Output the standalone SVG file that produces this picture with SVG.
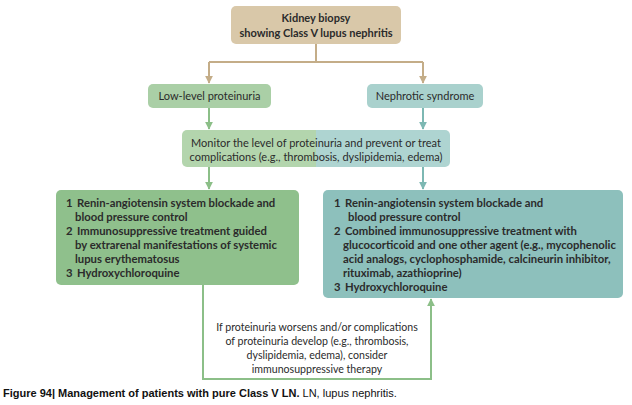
<svg xmlns="http://www.w3.org/2000/svg" width="632" height="405" viewBox="0 0 632 405">
<style>
text{font-family:Lato,"Liberation Sans",sans-serif;font-size:11px;fill:#2b2b2b}
.c{text-anchor:middle}
.b{font-weight:bold}
.bl text{font-size:11.3px}
.tan{stroke:#c4ad88;stroke-width:2;fill:none}
.grn{stroke:#8cbf88;stroke-width:2;fill:none}
.tel{stroke:#7db8b3;stroke-width:2;fill:none}
.cap{font-family:"Liberation Sans",sans-serif;font-size:11px;fill:#111}
</style>
<defs>
<marker id="aT" viewBox="0 0 10 10" refX="9" refY="5" markerWidth="4" markerHeight="4" orient="auto"><path d="M0,0L10,5L0,10z" fill="#c4ad88"/></marker>
<marker id="aG" viewBox="0 0 10 10" refX="9" refY="5" markerWidth="4" markerHeight="4" orient="auto"><path d="M0,0L10,5L0,10z" fill="#8cbf88"/></marker>
<marker id="aB" viewBox="0 0 10 10" refX="9" refY="5" markerWidth="4" markerHeight="4" orient="auto"><path d="M0,0L10,5L0,10z" fill="#7db8b3"/></marker>
</defs>
<rect width="632" height="405" fill="#fff"/>
<g id="connectors">
<path class="tan" d="M316,44V62M209,62H423M209,62V83" marker-end="url(#aT)"/>
<path class="tan" d="M423,62V83" marker-end="url(#aT)"/>
<path class="grn" d="M209,108V129" marker-end="url(#aG)"/>
<path class="tel" d="M423,108V129" marker-end="url(#aB)"/>
<path class="grn" d="M209,167V189" marker-end="url(#aG)"/>
<path class="tel" d="M423,167V189" marker-end="url(#aB)"/>
<path class="grn" d="M203,285V379H431V299" marker-end="url(#aG)"/>
</g>
<g id="biopsy">
<rect x="231" y="6" width="170" height="38" rx="5" fill="#d9c8a9"/>
<text class="c b" x="316" y="22">Kidney biopsy</text>
<text class="c b" x="316" y="37">showing Class V lupus nephritis</text>
</g>
<g id="lowlevel">
<rect x="148" y="84" width="123" height="24" rx="5" fill="#aacfa6"/>
<text class="c" x="209.5" y="100">Low-level proteinuria</text>
</g>
<g id="nephrotic">
<rect x="367" y="84" width="116" height="24" rx="5" fill="#a9d1cd"/>
<text class="c" x="425" y="100">Nephrotic syndrome</text>
</g>
<g id="monitor">
<path d="M187,130H316V167H187a5,5 0 0 1 -5,-5V135a5,5 0 0 1 5,-5z" fill="#b3d5ad"/>
<path d="M316,130H445a5,5 0 0 1 5,5V162a5,5 0 0 1 -5,5H316z" fill="#aed4d1"/>
<text class="c" x="316" y="147">Monitor the level of proteinuria and prevent or treat</text>
<text class="c" x="316" y="161">complications (e.g., thrombosis, dyslipidemia, edema)</text>
</g>
<g id="lowtreat">
<rect x="56" y="190" width="243" height="95" rx="5" fill="#8fc08c"/>
<g class="b bl">
<text x="66" y="207">1</text><text x="77" y="207">Renin-angiotensin system blockade and</text>
<text x="75" y="221">blood pressure control</text>
<text x="66" y="235">2</text><text x="77" y="235">Immunosuppressive treatment guided</text>
<text x="75" y="249">by extrarenal manifestations of systemic</text>
<text x="75" y="263">lupus erythematosus</text>
<text x="66" y="277">3</text><text x="77" y="277">Hydroxychloroquine</text>
</g>
</g>
<g id="nephtreat">
<rect x="323" y="190" width="300" height="108" rx="5" fill="#8dc0bc"/>
<g class="b bl">
<text x="334" y="207">1</text><text x="345" y="207">Renin-angiotensin system blockade and</text>
<text x="348" y="221">blood pressure control</text>
<text x="334" y="235">2</text><text x="345" y="235">Combined immunosuppressive treatment with</text>
<text x="343" y="249">glucocorticoid and one other agent (e.g., mycophenolic</text>
<text x="343" y="263">acid analogs, cyclophosphamide, calcineurin inhibitor,</text>
<text x="343" y="277">rituximab, azathioprine)</text>
<text x="334" y="291">3</text><text x="345" y="291">Hydroxychloroquine</text>
</g>
</g>
<g id="feedback">
<text class="c" x="317" y="331" style="font-size:10.6px">If proteinuria worsens and/or complications</text>
<text class="c" x="317" y="345" style="font-size:10.6px">of proteinuria develop (e.g., thrombosis,</text>
<text class="c" x="317" y="359" style="font-size:10.6px">dyslipidemia, edema), consider</text>
<text class="c" x="317" y="373" style="font-size:10.6px">immunosuppressive therapy</text>
</g>
<text class="cap" x="3" y="397"><tspan font-weight="bold">Figure 94| Management of patients with pure Class V LN.</tspan> LN, lupus nephritis.</text>
</svg>
